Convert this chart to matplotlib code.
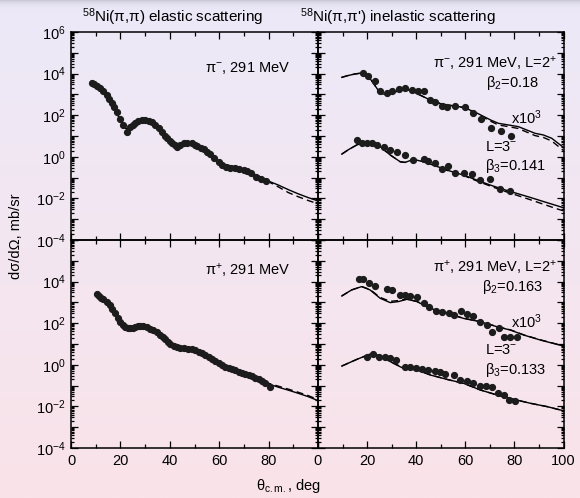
import numpy as np
import matplotlib
matplotlib.use("Agg")
import matplotlib.pyplot as plt
from matplotlib.ticker import FixedLocator, FixedFormatter, LogLocator, NullFormatter, MultipleLocator

plt.rcParams['font.family'] = ['Liberation Sans', 'DejaVu Sans']
plt.rcParams['mathtext.fontset'] = 'custom'
plt.rcParams['mathtext.rm'] = 'Liberation Sans'
plt.rcParams['mathtext.it'] = 'Liberation Sans:italic'
plt.rcParams['mathtext.sf'] = 'Liberation Sans'
plt.rcParams['mathtext.default'] = 'regular'

# ---------------- data (angles in deg, cross sections as log10 mb/sr) -------------
# Top-left: pi-, elastic
tl_data_deg = [8.4, 9.5, 10.5, 11.8, 13.0, 14.5, 15.5, 16.5, 17.5, 18.5, 19.9, 21.0, 22.6,
               23.9, 25.0, 26.0, 27.3, 28.7, 30.0, 31.4, 32.8, 34.1, 35.5, 36.8, 38.0, 38.8,
               40.0, 40.9, 42.0, 42.9, 44.0, 45.6, 47.0, 49.0, 50.0, 51.0, 52.5, 53.7, 55.0,
               56.1, 58.0, 59.8, 61.0, 62.9, 64.5, 66.5, 68.0, 70.0, 71.3, 73.0, 75.0, 77.0, 79.1]
tl_data_log10 = [3.56, 3.48, 3.40, 3.29, 3.15, 2.97, 2.78, 2.57, 2.38, 2.17, 1.80, 1.53, 1.21,
                 1.45, 1.55, 1.61, 1.72, 1.77, 1.77, 1.74, 1.65, 1.53, 1.38, 1.21, 1.02, 0.89,
                 0.75, 0.65, 0.55, 0.49, 0.55, 0.65, 0.67, 0.68, 0.58, 0.50, 0.42, 0.36, 0.22,
                 0.13, -0.05, -0.24, -0.38, -0.48, -0.52, -0.55, -0.58, -0.62, -0.67, -0.78,
                 -0.96, -1.05, -1.15]
tl_th_deg = [8, 10, 12, 14, 16, 18, 20, 21.5, 22.5, 24, 26, 28, 30, 32, 34, 36, 38, 40, 42, 44,
             46, 48, 50, 52, 54, 56, 58, 60, 62, 64, 66, 68, 70, 72, 74, 76, 78, 80, 84, 88,
             92, 96, 100]
tl_solid_log10 = [3.62, 3.45, 3.25, 3.00, 2.65, 2.25, 1.75, 1.42, 1.35, 1.48, 1.65, 1.76, 1.76,
                  1.68, 1.52, 1.28, 1.00, 0.75, 0.58, 0.55, 0.62, 0.63, 0.55, 0.42, 0.25, 0.08,
                  -0.10, -0.25, -0.36, -0.42, -0.46, -0.52, -0.60, -0.70, -0.82, -0.93, -1.03,
                  -1.17, -1.36, -1.58, -1.78, -1.96, -2.12]
tl_dash_log10 = [3.62, 3.45, 3.25, 3.00, 2.65, 2.25, 1.75, 1.42, 1.35, 1.48, 1.65, 1.76, 1.76,
                 1.68, 1.52, 1.28, 1.00, 0.75, 0.58, 0.55, 0.62, 0.63, 0.55, 0.42, 0.25, 0.08,
                 -0.10, -0.25, -0.36, -0.42, -0.46, -0.52, -0.60, -0.70, -0.82, -0.93, -1.04,
                 -1.20, -1.45, -1.72, -1.92, -2.10, -2.26]

# Bottom-left: pi+, elastic
bl_data_deg = [10.4, 11.5, 12.3, 13.1, 14.5, 15.8, 16.8, 17.8, 18.9, 19.9, 21.0, 21.9, 23.0,
               23.9, 25.0, 26.0, 27.0, 28.0, 29.3, 30.7, 32.0, 33.4, 34.8, 36.1, 37.1, 38.1,
               39.2, 40.2, 41.5, 42.9, 44.2, 45.6, 47.3, 49.0, 50.3, 51.7, 53.0, 54.4, 55.7,
               57.1, 58.4, 59.8, 61.1, 62.5, 63.8, 65.2, 66.5, 67.9, 69.2, 70.6, 72.0, 73.3,
               74.6, 76.0, 77.3, 78.7, 80.7]
bl_data_log10 = [3.40, 3.31, 3.23, 3.15, 3.02, 2.88, 2.68, 2.47, 2.27, 2.07, 1.92, 1.80, 1.76,
                 1.75, 1.79, 1.83, 1.86, 1.88, 1.85, 1.80, 1.74, 1.67, 1.56, 1.43, 1.33, 1.22,
                 1.11, 1.00, 0.91, 0.84, 0.81, 0.79, 0.77, 0.74, 0.69, 0.63, 0.56, 0.47, 0.37,
                 0.26, 0.16, 0.07, -0.03, -0.12, -0.16, -0.20, -0.27, -0.33, -0.39, -0.44,
                 -0.49, -0.54, -0.62, -0.70, -0.78, -0.86, -1.05]
bl_th_deg = [10, 12, 14, 16, 18, 20, 22, 24, 26, 28, 30, 32, 34, 36, 38, 40, 42, 44, 46, 48,
             50, 52, 54, 56, 58, 60, 62, 64, 66, 68, 70, 72, 74, 76, 78, 80, 84, 88, 92, 96, 100]
bl_solid_log10 = [3.45, 3.28, 3.08, 2.85, 2.45, 2.05, 1.78, 1.72, 1.78, 1.84, 1.82, 1.74, 1.62,
                  1.45, 1.24, 1.02, 0.87, 0.80, 0.78, 0.75, 0.70, 0.62, 0.49, 0.33, 0.18, 0.05,
                  -0.07, -0.15, -0.24, -0.34, -0.42, -0.50, -0.60, -0.70, -0.80, -0.92, -1.08,
                  -1.22, -1.37, -1.53, -1.72]
bl_dash_log10 = [3.45, 3.28, 3.08, 2.85, 2.45, 2.05, 1.78, 1.72, 1.78, 1.84, 1.82, 1.74, 1.62,
                 1.45, 1.24, 1.02, 0.87, 0.80, 0.78, 0.75, 0.70, 0.62, 0.49, 0.33, 0.18, 0.05,
                 -0.07, -0.15, -0.24, -0.34, -0.42, -0.50, -0.60, -0.70, -0.79, -0.89, -1.03,
                 -1.17, -1.32, -1.48, -1.67]

# Top-right: pi-, inelastic (L=2+ scaled x10^3, and L=3-)
tr2_data_deg = [18.5, 20.5, 23.3, 25.3, 28.0, 30.1, 32.8, 35.5, 38.2, 40.9, 43.0, 45.7, 47.8,
                50.5, 52.5, 55.9, 60.0, 63.1, 66.5, 70.6, 74.6, 78.7]
tr2_data_log10 = [4.01, 3.88, 3.64, 3.18, 3.08, 3.18, 3.25, 3.29, 3.21, 3.18, 3.18, 2.73, 2.65,
                  2.44, 2.41, 2.44, 2.38, 2.09, 1.80, 1.37, 1.24, 1.01]
tr2_th_deg = [9.7, 12, 15, 17.8, 20, 22.5, 25.3, 28, 31, 35.5, 38, 41, 45.7, 50, 55, 59.3, 64.8,
              70.3, 73.5, 77.6, 81.6, 85, 88.4, 91.8, 95.2, 100]
tr2_solid_log10 = [3.82, 3.90, 3.98, 4.03, 3.95, 3.55, 3.06, 2.98, 3.10, 3.26, 3.18, 3.00, 2.73,
                   2.55, 2.45, 2.38, 2.10, 1.77, 1.61, 1.53, 1.45, 1.29, 1.13, 1.05, 0.89, 0.45]
tr2_dash_log10 = [3.82, 3.90, 3.98, 4.03, 3.95, 3.55, 3.06, 2.98, 3.10, 3.26, 3.18, 3.00, 2.73,
                  2.55, 2.45, 2.36, 2.06, 1.71, 1.53, 1.45, 1.36, 1.19, 1.02, 0.93, 0.76, 0.30]
tr3_data_deg = [15.8, 17.8, 19.9, 21.9, 24.2, 26.7, 29.4, 32.1, 35.5, 38.9, 43.0, 45.0, 47.8,
                50.5, 52.8, 55.9, 59.3, 62.7, 66.1, 70.2, 74.3, 78.4]
tr3_data_log10 = [0.81, 0.65, 0.65, 0.65, 0.57, 0.49, 0.33, 0.25, 0.09, -0.15, -0.12, -0.19,
                  -0.31, -0.59, -0.44, -0.76, -0.76, -0.83, -1.12, -1.08, -1.55, -1.63]
tr3_th_deg = [9.7, 12.5, 15.8, 18.5, 21.2, 25.3, 29.4, 33.5, 35.5, 38.9, 43.0, 47.1, 52.5,
              59.3, 64.7, 70.2, 75.6, 81.0, 86.4, 91.8, 97.3, 100]
tr3_solid_log10 = [0.13, 0.35, 0.57, 0.68, 0.73, 0.49, 0.09, -0.24, -0.27, -0.12, -0.24, -0.40,
                   -0.64, -0.88, -1.12, -1.36, -1.57, -1.76, -1.95, -2.15, -2.35, -2.45]
tr3_dash_log10 = [0.13, 0.35, 0.57, 0.68, 0.73, 0.49, 0.09, -0.24, -0.27, -0.12, -0.24, -0.40,
                  -0.65, -0.90, -1.16, -1.41, -1.64, -1.85, -2.06, -2.28, -2.50, -2.60]

# Bottom-right: pi+, inelastic (L=2+ scaled x10^3, and L=3-)
br2_data_deg = [16.5, 18.2, 20.9, 23.3, 28.0, 30.1, 33.5, 35.5, 37.6, 40.3, 43.0, 45.4, 48.2,
                50.5, 53.2, 55.5, 58.2, 60.7, 63.1, 65.8, 68.8, 70.9, 73.6, 75.6, 78.4, 81.1]
br2_data_log10 = [4.13, 4.13, 3.95, 3.79, 3.63, 3.60, 3.36, 3.36, 3.31, 3.28, 2.99, 2.80, 2.59,
                  2.55, 2.51, 2.39, 2.59, 2.44, 2.35, 2.07, 1.91, 1.59, 1.75, 1.32, 1.32, 1.32]
br2_th_deg = [9.7, 13.7, 17.8, 21.2, 25.3, 29.4, 32.8, 36.2, 40.3, 45.7, 52.5, 59.3, 66.1,
              72.9, 78.4, 83.8, 90.6, 97.4, 100]
br2_solid_log10 = [3.31, 3.60, 3.76, 3.60, 3.20, 2.99, 3.04, 3.15, 3.04, 2.71, 2.47, 2.23, 2.07,
                   1.83, 1.67, 1.43, 1.19, 0.98, 0.90]
br2_dash_log10 = [3.31, 3.60, 3.76, 3.62, 3.24, 3.05, 3.09, 3.16, 3.05, 2.72, 2.48, 2.24, 2.08,
                  1.84, 1.68, 1.44, 1.20, 0.99, 0.91]
br3_data_deg = [20.1, 22.6, 25.0, 27.3, 29.4, 31.8, 35.5, 37.6, 40.0, 42.3, 45.0, 47.8, 49.8,
                51.8, 55.2, 58.0, 60.7, 63.1, 65.8, 68.6, 70.9, 73.2, 75.6, 77.7, 80.4]
br3_data_log10 = [0.36, 0.52, 0.39, 0.36, 0.31, 0.23, -0.12, -0.12, -0.17, -0.20, -0.25, -0.28,
                  -0.36, -0.44, -0.49, -0.73, -0.76, -0.86, -1.02, -1.02, -1.05, -1.34, -1.45,
                  -1.69, -1.72]
br3_th_deg = [9.7, 15.8, 21.9, 26.0, 30.7, 34.8, 40.3, 45.7, 52.5, 59.3, 66.1, 72.9, 79.7,
              86.5, 93.3, 100]
br3_solid_log10 = [-0.06, 0.26, 0.55, 0.39, 0.07, -0.17, -0.25, -0.49, -0.70, -0.89, -1.21,
                   -1.45, -1.66, -1.85, -2.01, -2.21]
br3_dash_log10 = [-0.06, 0.26, 0.55, 0.40, 0.09, -0.15, -0.24, -0.48, -0.70, -0.89, -1.21,
                  -1.45, -1.66, -1.85, -2.01, -2.21]

y_exponents = [-4, -3, -2, -1, 0, 1, 2, 3, 4, 5, 6]
x_ticks = [0, 20, 40, 60, 80, 100]

# ---------------- figure ----------------
W, H = 580, 498
fig = plt.figure(figsize=(W / 100, H / 100), dpi=100)

# background gradient (lavender -> pink) with slight top shadow
bg = fig.add_axes([0, 0, 1, 1], zorder=-10)
t = np.linspace(0, 1, H)[:, None]
top = np.array([236, 233, 248]) / 255.0
bot = np.array([250, 227, 233]) / 255.0
grad = top[None, None, :] * (1 - t[..., None]) + bot[None, None, :] * t[..., None]
grad = np.repeat(grad, 4, axis=1)
shade = np.exp(-np.arange(H) / 3.0)[:, None, None] * 0.18
grad = np.clip(grad - shade, 0, 1)
bg.imshow(grad, aspect='auto', extent=[0, 1, 0, 1], interpolation='bilinear')
bg.axis('off')


def ax_at(x0, y0, x1, y1):
    a = fig.add_axes([x0 / W, 1 - y1 / H, (x1 - x0) / W, (y1 - y0) / H])
    a.set_facecolor('none')
    return a


axTL = ax_at(71, 32, 318, 240)
axTR = ax_at(318, 32, 563.5, 240)
axBL = ax_at(71, 240, 318, 448)
axBR = ax_at(318, 240, 563.5, 448)

ylab_all = [r'$\mathdefault{10^{%d}}$' % e if e % 2 == 0 else '' for e in y_exponents]

for a in (axTL, axTR, axBL, axBR):
    a.set_yscale('log')
    a.set_xlim(0, 100)
    a.set_ylim(1e-4, 1e6)
    a.yaxis.set_major_locator(FixedLocator([10.0 ** e for e in y_exponents]))
    a.yaxis.set_minor_locator(LogLocator(base=10, subs=np.arange(2, 10), numticks=20))
    a.yaxis.set_minor_formatter(NullFormatter())
    a.xaxis.set_major_locator(FixedLocator(x_ticks))
    a.xaxis.set_minor_locator(MultipleLocator(10))
    a.tick_params(which='both', direction='in', top=True, right=True, labelsize=10.5,
                  width=0.9, colors='black')
    a.tick_params(which='major', length=5, pad=4)
    a.tick_params(which='minor', length=2.5)
    a.tick_params(axis='x', which='minor', length=3)
    for s in a.spines.values():
        s.set_linewidth(1.1)

# y labels
axTL.yaxis.set_major_formatter(FixedFormatter(ylab_all))
axBL.yaxis.set_major_formatter(FixedFormatter(ylab_all[:-1] + ['']))
for a in (axTR, axBR):
    a.tick_params(axis='y', which='both', labelleft=False)
# x labels
for a in (axTL, axTR):
    a.tick_params(axis='x', which='both', labelbottom=False)
axBL.xaxis.set_major_formatter(FixedFormatter(['0', '20', '40', '60', '80', '']))
axBR.xaxis.set_major_formatter(FixedFormatter([str(v) for v in x_ticks]))

mk = dict(ls='none', marker='o', ms=4.2, color='#1c1c1c', mec='#1c1c1c', zorder=3)
ln = dict(color='black', lw=1.0, zorder=2)
dn = dict(color='black', lw=1.0, ls=(0, (5, 3)), zorder=2)


def p(v):
    return 10.0 ** np.asarray(v)


axTL.plot(tl_th_deg, p(tl_solid_log10), **ln)
axTL.plot(tl_th_deg, p(tl_dash_log10), **dn)
axTL.plot(tl_data_deg, p(tl_data_log10), **mk)

axBL.plot(bl_th_deg, p(bl_solid_log10), **ln)
axBL.plot(bl_th_deg, p(bl_dash_log10), **dn)
axBL.plot(bl_data_deg, p(bl_data_log10), **mk)

axTR.plot(tr2_th_deg, p(tr2_solid_log10), **ln)
axTR.plot(tr2_th_deg, p(tr2_dash_log10), **dn)
axTR.plot(tr2_data_deg, p(tr2_data_log10), **mk)
axTR.plot(tr3_th_deg, p(tr3_solid_log10), **ln)
axTR.plot(tr3_th_deg, p(tr3_dash_log10), **dn)
axTR.plot(tr3_data_deg, p(tr3_data_log10), **mk)

axBR.plot(br2_th_deg, p(br2_solid_log10), **ln)
axBR.plot(br2_th_deg, p(br2_dash_log10), **dn)
axBR.plot(br2_data_deg, p(br2_data_log10), **mk)
axBR.plot(br3_th_deg, p(br3_solid_log10), **ln)
axBR.plot(br3_th_deg, p(br3_dash_log10), **dn)
axBR.plot(br3_data_deg, p(br3_data_log10), **mk)

PI = r'$\mathrm{\pi}$'
fs = 10.5


def ftext(x, y, s, ha='left', size=fs, **kw):
    fig.text(x / W, 1 - y / H, s, ha=ha, va='center', fontsize=size, **kw)


# titles
ftext(82, 17, r'$^{58}$Ni(' + PI + ',' + PI + ') elastic scattering', size=11)
ftext(300, 17, r'$^{58}$Ni(' + PI + ',' + PI + "') inelastic scattering", size=11)

# panel annotations
ftext(290, 68, PI + r'$^{-}$, 291 MeV', ha='right')
ftext(290, 270, PI + r'$^{+}$, 291 MeV', ha='right')

ftext(557, 63, PI + r'$^{-}$, 291 MeV, L=2$^{+}$', ha='right')
ftext(539, 83, r'$\mathrm{\beta}_{2}$=0.18', ha='right')
ftext(542, 118, r'x10$^{3}$', ha='right')
ftext(485, 147, r'L=3$^{-}$')
ftext(485, 166, r'$\mathrm{\beta}_{3}$=0.141')

ftext(557, 267, PI + r'$^{+}$, 291 MeV, L=2$^{+}$', ha='right')
ftext(543, 287, r'$\mathrm{\beta}_{2}$=0.163', ha='right')
ftext(542, 322, r'x10$^{3}$', ha='right')
ftext(485, 350, r'L=3$^{-}$')
ftext(485, 370, r'$\mathrm{\beta}_{3}$=0.133')

# axis labels
fig.text(16 / W, 1 - 236 / H, 'dσ/dΩ, mb/sr', rotation=90, ha='center', va='center',
         fontsize=10.5)
ftext(289, 486, r'$\mathrm{\theta}_{\mathrm{c.m.}}$, deg', ha='center')

fig.savefig('out.png', dpi=100)
